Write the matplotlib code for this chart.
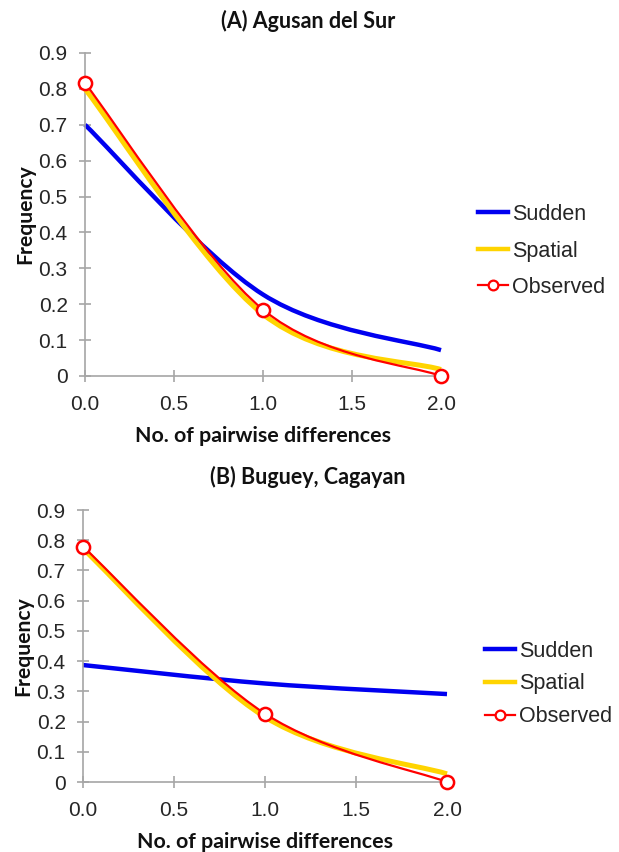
import matplotlib
matplotlib.use("Agg")
import matplotlib.pyplot as plt
from matplotlib.path import Path
from matplotlib.patches import PathPatch
from matplotlib.lines import Line2D
import numpy as np

x_vals = [0.0, 1.0, 2.0]

titles = ["(A) Agusan del Sur", "(B) Buguey, Cagayan"]
sudden = [[0.70, 0.227, 0.072], [0.387, 0.326, 0.291]]
spatial = [[0.80, 0.172, 0.018], [0.772, 0.215, 0.027]]
observed = [[0.816, 0.185, 0.0], [0.779, 0.226, 0.0]]

series_labels = ["Sudden", "Spatial", "Observed"]
xticks = [0.0, 0.5, 1.0, 1.5, 2.0]
xtick_labels = ["0.0", "0.5", "1.0", "1.5", "2.0"]
yticks = [0, 0.1, 0.2, 0.3, 0.4, 0.5, 0.6, 0.7, 0.8, 0.9]
ytick_labels = ["0", "0.1", "0.2", "0.3", "0.4", "0.5", "0.6", "0.7", "0.8", "0.9"]

C_BLUE = "#0000F0"
C_YEL = "#FFD400"
C_RED = "#FF0000"

SANS = "Liberation Sans"
BOLD = "Lato"


def smooth_path(xs, ys):
    pts = np.column_stack([xs, ys]).astype(float)
    n = len(pts)
    verts = [pts[0]]
    codes = [Path.MOVETO]
    for i in range(n - 1):
        p0 = pts[i - 1] if i > 0 else pts[i]
        p1 = pts[i]
        p2 = pts[i + 1]
        p3 = pts[i + 2] if i + 2 < n else pts[i + 1]
        c1 = p1 + (p2 - p0) / 6.0
        c2 = p2 - (p3 - p1) / 6.0
        verts += [c1, c2, p2]
        codes += [Path.CURVE4] * 3
    return Path(verts, codes)


fig = plt.figure(figsize=(6.19, 8.52), dpi=100)
axes_rects = [
    [85 / 619, 1 - 376 / 852, (441 - 85) / 619, (376 - 53) / 852],
    [83 / 619, 1 - 782 / 852, (447 - 83) / 619, (782 - 510) / 852],
]
title_y = [1 - 21 / 852, 1 - 477 / 852]
legend_anchor = [(478 / 619, 1 - 251 / 852), (485 / 619, 1 - 684 / 852)]
legend_spacing = [0.72, 0.55]

for k in range(2):
    ax = fig.add_axes(axes_rects[k])
    ax.add_patch(PathPatch(smooth_path(x_vals, sudden[k]), fill=False,
                           edgecolor=C_BLUE, lw=3.2, clip_on=False, zorder=2,
                           capstyle="butt"))
    ax.add_patch(PathPatch(smooth_path(x_vals, spatial[k]), fill=False,
                           edgecolor=C_YEL, lw=3.6, clip_on=False, zorder=3,
                           capstyle="butt"))
    ax.add_patch(PathPatch(smooth_path(x_vals, observed[k]), fill=False,
                           edgecolor=C_RED, lw=1.6, clip_on=False, zorder=4))
    ax.plot(x_vals, observed[k], linestyle="none", marker="o", ms=9.5,
            mfc="white", mec=C_RED, mew=1.8, clip_on=False, zorder=5)

    ax.set_xlim(0, 2)
    ax.set_ylim(0, 0.9)
    ax.set_xticks(xticks)
    ax.set_xticklabels(xtick_labels)
    ax.set_yticks(yticks)
    ax.set_yticklabels(ytick_labels)
    for s in ["top", "right"]:
        ax.spines[s].set_visible(False)
    for s in ["left", "bottom"]:
        ax.spines[s].set_color("#A6A6A6")
        ax.spines[s].set_linewidth(1.2)
    ax.tick_params(axis="both", direction="inout", length=9, width=1.2,
                   color="#A6A6A6", labelcolor="#262626")
    ax.tick_params(axis="y", pad=8)
    ax.tick_params(axis="x", pad=9)
    for lab in ax.get_xticklabels() + ax.get_yticklabels():
        lab.set_fontfamily(SANS)
        lab.set_fontsize(15)

    ax.set_xlabel("No. of pairwise differences", fontfamily=BOLD,
                  fontweight="bold", fontsize=15.4, labelpad=9, color="#111111")
    ax.set_ylabel("Frequency", fontfamily=BOLD, fontweight="bold",
                  fontsize=15.2, labelpad=2, color="#111111")

    fig.text(0.497, title_y[k], titles[k], ha="center", va="center",
             fontfamily=BOLD, fontweight="bold", fontsize=15.5, color="#111111")

    handles = [
        Line2D([], [], color=C_BLUE, lw=3.2),
        Line2D([], [], color=C_YEL, lw=3.2),
        Line2D([], [], color=C_RED, lw=1.6, marker="o", ms=7, mfc="white",
               mec=C_RED, mew=1.6),
    ]
    leg = fig.legend(handles, series_labels, loc="center left",
                     bbox_to_anchor=legend_anchor[k], frameon=False,
                     borderaxespad=0, borderpad=0,
                     handlelength=1.4, handletextpad=0.2,
                     labelspacing=legend_spacing[k],
                     prop={"family": SANS, "size": 15.5})
    for t in leg.get_texts():
        t.set_color("#262626")

fig.savefig("out.png", dpi=100)
